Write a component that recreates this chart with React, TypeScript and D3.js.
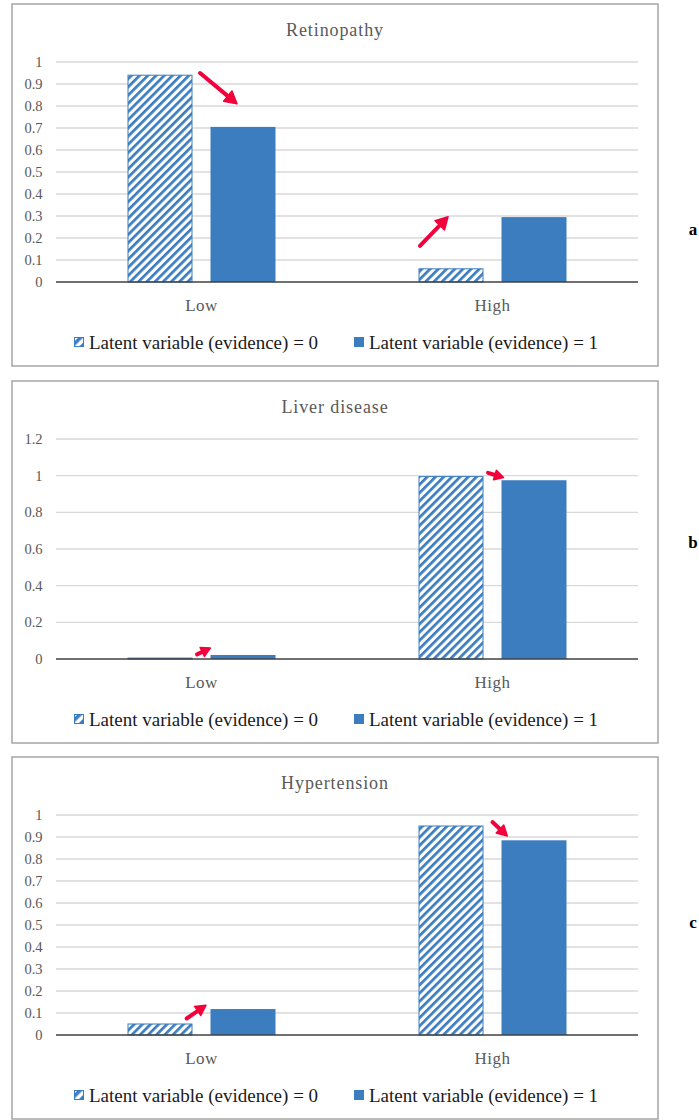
import * as d3 from 'd3';

const categories = ['Low', 'High'];
const seriesNames = ['Latent variable (evidence) = 0', 'Latent variable (evidence) = 1'];

const retinopathyEv0 = [0.94, 0.06];
const retinopathyEv1 = [0.705, 0.295];
const liverEv0 = [0.005, 0.995];
const liverEv1 = [0.022, 0.975];
const hypertensionEv0 = [0.05, 0.95];
const hypertensionEv1 = [0.118, 0.885];

const ticksTenth = [0, 0.1, 0.2, 0.3, 0.4, 0.5, 0.6, 0.7, 0.8, 0.9, 1];
const ticksFifth = [0, 0.2, 0.4, 0.6, 0.8, 1, 1.2];

// arrow annotations: category index, tail/head as [fraction across bar group, value]
const retinopathyArrows = [
  { cat: 0, tail: [0.49, 0.95], head: [0.74, 0.81], size: 12 },
  { cat: 1, tail: [0.01, 0.164], head: [0.2, 0.297], size: 12 },
];
const liverArrows = [
  { cat: 0, tail: [0.47, 0.025], head: [0.56, 0.06], size: 9 },
  { cat: 1, tail: [0.47, 1.015], head: [0.575, 0.99], size: 9 },
];
const hypertensionArrows = [
  { cat: 0, tail: [0.4, 0.075], head: [0.53, 0.135], size: 10 },
  { cat: 1, tail: [0.5, 0.968], head: [0.6, 0.905], size: 10 },
];

const BLUE = '#3c7dc0';
const RED = '#f3003c';
const FONT = 'Liberation Serif, Times New Roman, serif';

const panelX = 12;
const panelW = 646;
const panelH = 362;
const plotLeft = 56;
const plotRight = 638;
const plotOffset = 58;
const plotH = 220;
const barW = 65;
const barGap = 18;

interface Arrow {
  cat: number;
  tail: number[];
  head: number[];
  size: number;
}

interface PanelProps {
  top: number;
  title: string;
  ev0: number[];
  ev1: number[];
  ticks: number[];
  yMax: number;
  arrows: Arrow[];
  letter: string;
  letterY: number;
}

function Panel({ top, title, ev0, ev1, ticks, yMax, arrows, letter, letterY }: PanelProps) {
  const x = d3.scaleBand<string>().domain(categories).range([plotLeft, plotRight]);
  const y = d3
    .scaleLinear()
    .domain([0, yMax])
    .range([top + plotOffset + plotH, top + plotOffset]);
  const groupW = barW * 2 + barGap;
  const groupStart = (c: string) => (x(c) ?? 0) + (x.bandwidth() - groupW) / 2;
  const fmt = (v: number) => (v === 0 ? '0' : d3.format('~g')(v));

  const legendY = top + 345;

  return (
    <g>
      <rect
        x={panelX}
        y={top}
        width={panelW}
        height={panelH}
        fill="#fff"
        stroke="#a5a5a5"
        strokeWidth={1.5}
      />
      <text
        x={335}
        y={top + 31.5}
        textAnchor="middle"
        fontFamily={FONT}
        fontSize={18}
        letterSpacing={0.9}
        fill="#595959"
      >
        {title}
      </text>
      {ticks.map((t) => (
        <g key={t}>
          {t > 0 && (
            <line
              x1={plotLeft}
              x2={plotRight}
              y1={y(t)}
              y2={y(t)}
              stroke="#d9d9d9"
              strokeWidth={1.3}
            />
          )}
          <text
            x={42.5}
            y={y(t) + 5}
            textAnchor="end"
            fontFamily={FONT}
            fontSize={14.5}
            fill="#595959"
          >
            {fmt(t)}
          </text>
        </g>
      ))}
      {categories.map((c, i) => {
        const gx = groupStart(c);
        return (
          <g key={c}>
            <rect
              x={gx + 0.5}
              y={y(ev0[i])}
              width={barW - 1}
              height={y(0) - y(ev0[i])}
              fill="url(#hatch)"
              stroke={BLUE}
              strokeWidth={1}
            />
            <rect
              x={gx + barW + barGap}
              y={y(ev1[i])}
              width={barW}
              height={y(0) - y(ev1[i])}
              fill={BLUE}
            />
            <text
              x={(x(c) ?? 0) + x.bandwidth() / 2}
              y={top + 307}
              textAnchor="middle"
              fontFamily={FONT}
              fontSize={17}
              letterSpacing={0.5}
              fill="#595959"
            >
              {c}
            </text>
          </g>
        );
      })}
      <line x1={plotLeft} x2={plotRight} y1={y(0)} y2={y(0)} stroke="#404040" strokeWidth={1.3} />
      {arrows.map((a, i) => {
        const c = categories[a.cat];
        const gx = groupStart(c);
        const x0 = gx + a.tail[0] * groupW;
        const y0 = y(a.tail[1]);
        const x1 = gx + a.head[0] * groupW;
        const y1 = y(a.head[1]);
        const len = Math.hypot(x1 - x0, y1 - y0);
        const ux = (x1 - x0) / len;
        const uy = (y1 - y0) / len;
        const bx = x1 - ux * a.size;
        const by = y1 - uy * a.size;
        const hw = a.size * 0.55;
        return (
          <g key={i}>
            <line
              x1={x0}
              y1={y0}
              x2={bx + ux * 2}
              y2={by + uy * 2}
              stroke={RED}
              strokeWidth={4}
              strokeLinecap="round"
            />
            <path
              d={`M${x1},${y1} L${bx - uy * hw},${by + ux * hw} L${bx + uy * hw},${by - ux * hw} Z`}
              fill={RED}
              stroke={RED}
              strokeWidth={1.5}
              strokeLinejoin="round"
            />
          </g>
        );
      })}
      {seriesNames.map((s, i) => {
        const lx = i === 0 ? 74 : 354;
        return (
          <g key={s}>
            <rect
              x={lx + 0.5}
              y={legendY - 11.5}
              width={9}
              height={9}
              fill={i === 0 ? 'url(#hatchSmall)' : BLUE}
              stroke={BLUE}
              strokeWidth={1}
            />
            <text x={lx + 15} y={legendY} fontFamily={FONT} fontSize={19} fill="#1a1a1a">
              {s}
            </text>
          </g>
        );
      })}
      <text
        x={693}
        y={letterY}
        textAnchor="middle"
        fontFamily={FONT}
        fontSize={17}
        fontWeight="bold"
        fill="#000"
      >
        {letter}
      </text>
    </g>
  );
}

export default function App() {
  return (
    <svg
      width={699}
      height={1120}
      viewBox="0 0 699 1120"
      style={{ position: 'absolute', left: 0, top: 0, display: 'block', background: '#fff' }}
    >
      <defs>
        <pattern
          id="hatch"
          patternUnits="userSpaceOnUse"
          width={5.8}
          height={10}
          patternTransform="rotate(45)"
        >
          <rect width={5.8} height={10} fill="#fff" />
          <rect width={2.7} height={10} fill={BLUE} />
        </pattern>
        <pattern
          id="hatchSmall"
          patternUnits="userSpaceOnUse"
          width={7}
          height={10}
          patternTransform="rotate(45)"
        >
          <rect width={7} height={10} fill="#fff" />
          <rect width={3.5} height={10} fill={BLUE} />
        </pattern>
      </defs>
      <rect width={699} height={1120} fill="#fff" />
      <Panel
        top={4}
        title="Retinopathy"
        ev0={retinopathyEv0}
        ev1={retinopathyEv1}
        ticks={ticksTenth}
        yMax={1}
        arrows={retinopathyArrows}
        letter="a"
        letterY={235}
      />
      <Panel
        top={381}
        title="Liver disease"
        ev0={liverEv0}
        ev1={liverEv1}
        ticks={ticksFifth}
        yMax={1.2}
        arrows={liverArrows}
        letter="b"
        letterY={548}
      />
      <Panel
        top={757}
        title="Hypertension"
        ev0={hypertensionEv0}
        ev1={hypertensionEv1}
        ticks={ticksTenth}
        yMax={1}
        arrows={hypertensionArrows}
        letter="c"
        letterY={928}
      />
    </svg>
  );
}
